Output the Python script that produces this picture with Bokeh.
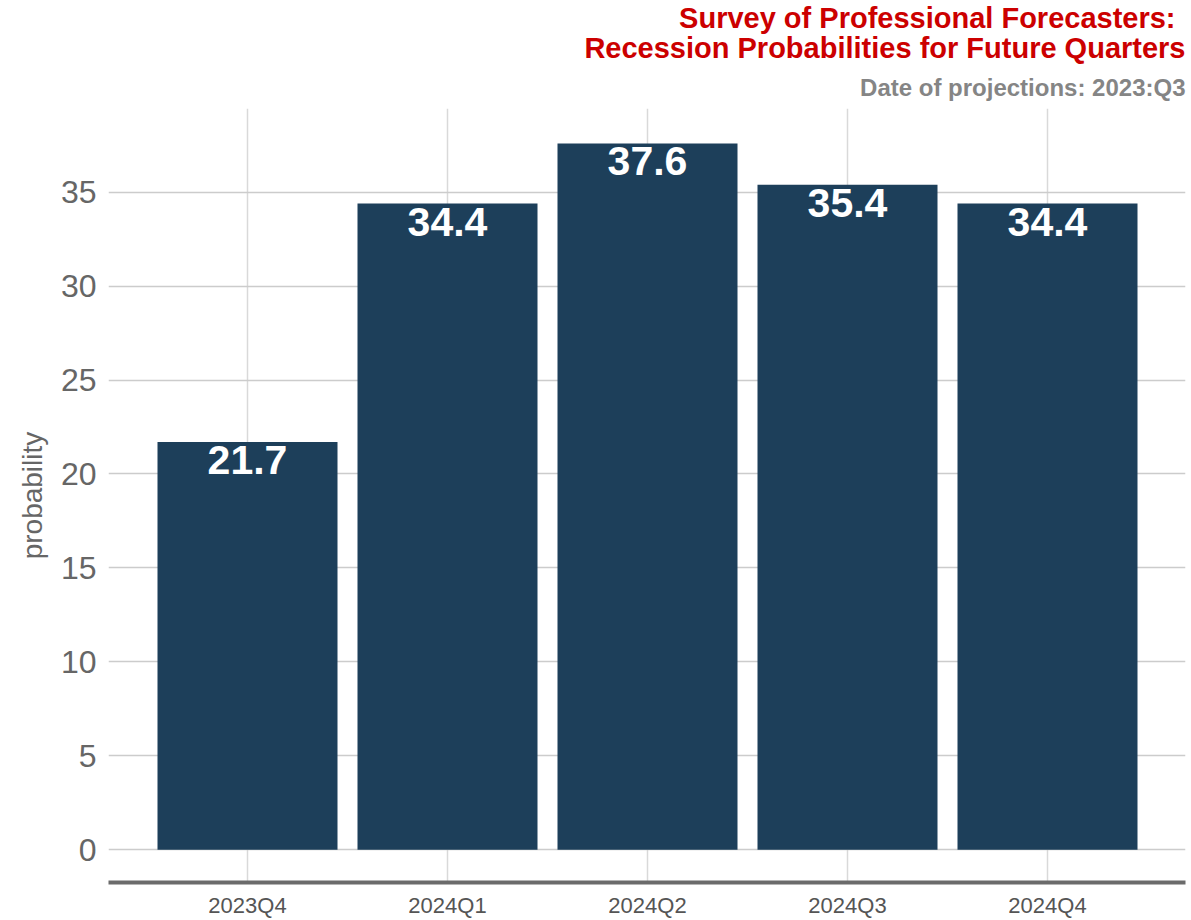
from bokeh.plotting import figure
from bokeh.models import Range1d, FixedTicker, Title, ColumnDataSource
from bokeh.core.properties import value
from bokeh.embed import file_html
from bokeh.resources import INLINE

quarters = ["2023Q4", "2024Q1", "2024Q2", "2024Q3", "2024Q4"]
probs = [21.7, 34.4, 37.6, 35.4, 34.4]
y_ticks = [0, 5, 10, 15, 20, 25, 30, 35]
title_line1 = "Survey of Professional Forecasters:"
title_line2 = "Recession Probabilities for Future Quarters"
subtitle = "Date of projections: 2023:Q3"

FONT = "Liberation Sans"
idx = list(range(len(quarters)))
src = ColumnDataSource(dict(x=idx, top=probs, lab=[f"{v:.1f}" for v in probs]))

p = figure(width=1190, height=920, output_backend="svg", toolbar_location=None,
           x_range=Range1d(-0.695, 4.69), y_range=Range1d(-1.75, 39.46),
           min_border_left=108, min_border_right=5, min_border_top=108,
           min_border_bottom=36)
p.outline_line_color = None
p.background_fill_color = "white"

p.add_layout(Title(text=subtitle, align="right", text_font=FONT, text_font_size="24px",
                   text_font_style="bold", text_color="#858585", standoff=14.6), "above")
p.add_layout(Title(text=title_line2, align="right", text_font=FONT, text_font_size="29px",
                   text_font_style="bold", text_color="#CC0000", standoff=0.2), "above")
p.add_layout(Title(text=title_line1, align="right", text_font=FONT, text_font_size="29px",
                   text_font_style="bold", text_color="#CC0000", standoff=-7,
                   offset=10), "above")

p.vbar(x="x", top="top", width=0.9, source=src, fill_color="#1D3F5A", line_color=None)
p.text(x="x", y="top", text="lab", source=src, text_align="center", text_baseline="top",
       y_offset=4, text_color="white", text_font=value(FONT), text_font_size="41px",
       text_font_style="bold")

# x axis
p.xaxis.ticker = FixedTicker(ticks=idx)
p.xaxis.major_label_overrides = {i: q for i, q in zip(idx, quarters)}
p.xaxis.axis_line_width = 4
p.xaxis.axis_line_color = "#6b6b6b"
p.xaxis.major_tick_line_color = None
p.xaxis.major_tick_out = 0
p.xaxis.major_tick_in = 0
p.xaxis.minor_tick_line_color = None
p.xaxis.major_label_text_font = FONT
p.xaxis.major_label_text_font_size = "22px"
p.xaxis.major_label_text_color = "#555555"
p.xaxis.major_label_standoff = 10

# y axis
p.yaxis.ticker = FixedTicker(ticks=y_ticks)
p.yaxis.axis_line_color = None
p.yaxis.major_tick_line_color = None
p.yaxis.major_tick_out = 0
p.yaxis.major_tick_in = 0
p.yaxis.minor_tick_line_color = None
p.yaxis.major_label_text_font = FONT
p.yaxis.major_label_text_font_size = "32px"
p.yaxis.major_label_text_color = "#666666"
p.yaxis.major_label_standoff = 12
p.yaxis.axis_label = "probability"
p.yaxis.axis_label_text_font = FONT
p.yaxis.axis_label_text_font_size = "28px"
p.yaxis.axis_label_text_font_style = "normal"
p.yaxis.axis_label_text_color = "#666666"
p.yaxis.axis_label_standoff = 10

p.xgrid.grid_line_color = "#d9d9d9"
p.xgrid.grid_line_width = 1.5
p.ygrid.grid_line_color = "#cccccc"
p.ygrid.grid_line_width = 1.5

open("out.html", "w").write(file_html(p, INLINE))
